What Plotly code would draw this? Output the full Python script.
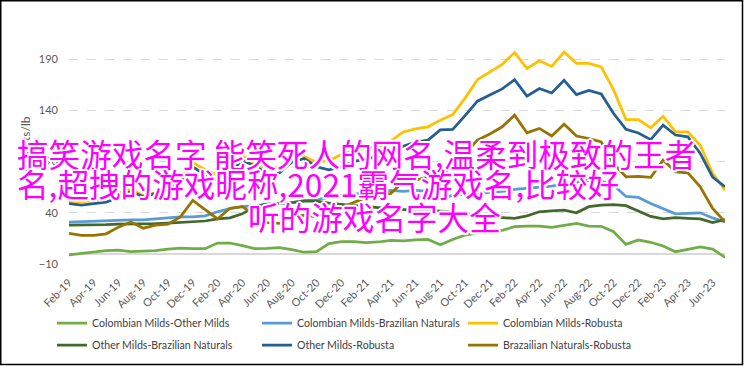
import pandas as pd
import plotly.graph_objects as go

# ---------------- data ----------------
months = list(pd.date_range("2019-02-01", periods=54, freq="MS").strftime("%b-%y"))
tick_labels = months[::2]

series_names = [
    "Colombian Milds-Other Milds",
    "Colombian Milds-Brazilian Naturals",
    "Colombian Milds-Robusta",
    "Other Milds-Brazilian Naturals",
    "Other Milds-Robusta",
    "Brazailian Naturals-Robusta",
]

colombian_other = [-1, 0.5, 2, 3, 3.5, 2, 2.5, 3, 4.5, 5.5,
                   5, 5, 10.5, 10.5, 8, 5, 5.3, 6, 4, 1.5,
                   2, 10, 11.8, 11.8, 11, 11.5, 13, 12.5, 13.5, 14,
                   8.8, 14, 18.3, 20.5, 22.2, 22.9, 26.4, 27.1, 27.1, 25.8,
                   27.8, 29.7, 27.1, 26.8, 21.5, 9.2, 13.4, 11.2, 7.6, 2,
                   4.3, 6.6, 4.6, -3.5]
colombian_brazilian = [31, 31.5, 32, 32.5, 33, 33, 33, 34, 34.5, 36,
                       36, 37, 41, 44, 46, 47, 47.5, 49, 50, 52,
                       53, 55, 57, 58, 60, 61, 62, 61, 62, 61,
                       54, 57, 58, 59, 60, 61, 63, 64, 65, 66,
                       68, 70, 72, 71, 67, 56, 55, 49, 44, 39,
                       39.5, 40, 35, 31]
colombian_robusta = [51, 51, 52, 54, 59, 63, 57, 59.6, 61, 73,
                     89, 82, 77, 86, 96, 88, 83.4, 85, 96, 95,
                     89.5, 91, 97, 101, 103.5, 104.4, 110, 119, 122, 124,
                     130.5, 136, 152, 170, 177.6, 185, 196.5, 181, 188.5, 183,
                     197, 186, 186, 182.5, 160, 131, 131, 123, 134.4, 119,
                     119, 106, 78.5, 62]
other_brazilian = [28, 28, 28, 28.5, 29, 29, 29, 29.5, 30, 30.5,
                   31, 32, 34, 35, 39, 46, 48.5, 49, 50, 51.5,
                   51.5, 49.5, 48, 47, 46, 45, 44, 43, 43, 42.5,
                   42, 41, 39, 37, 36, 35, 34.6, 37, 41, 42,
                   42.7, 40, 46, 47.6, 48, 47, 42, 36.5, 34, 35.2,
                   34.5, 34, 30.5, 33.5]
other_robusta = [49, 47.6, 49, 50.5, 55, 61, 55.7, 59, 59.5, 71,
                 85, 77, 72, 80, 91, 86, 78.5, 79, 89.5, 93,
                 85, 82, 85, 90, 93, 94.7, 100, 105, 109, 111,
                 121, 121.4, 135, 149, 155, 161, 170, 154, 161.4, 157,
                 169.5, 155.5, 159.5, 156, 137, 121.5, 118, 111.5, 125.6, 116,
                 114.2, 98, 75, 65.5]
brazilian_robusta = [20, 18, 18, 19.5, 26, 31, 25, 28, 29, 36,
                     52, 43, 34, 44.5, 46, 38, 30.5, 29.7, 36, 37.8,
                     36, 40, 45, 50, 55, 57, 59, 70, 72, 75,
                     77, 85, 98, 111, 117, 124, 135.4, 118.2, 122.4, 115,
                     126.6, 115, 112.6, 109.3, 88, 75.2, 75.5, 74.6, 91.5, 80,
                     79, 65.4, 44.3, 31.3]

overlay_lines = [
    "搞笑游戏名字 能笑死人的网名,温柔到极致的王者",
    "名,超拽的游戏昵称,2021霸气游戏名,比较好",
    "听的游戏名字大全",
]

# ---------------- layout geometry ----------------
W, H = 744, 366
Y_MIN, Y_MAX = -10, 200          # axis range (ticks shown up to 190)
L, R, T, B = 69, 19, 49, 102
PW, PH = W - L - R, H - T - B


def px_x(px):
    return (px - L) / PW


def px_y(py):
    return (T + PH - py) / PH


colors = ["#70AD47", "#5B9BD5", "#FFC000", "#43682B", "#255E91", "#997300"]
values = [colombian_other, colombian_brazilian, colombian_robusta,
          other_brazilian, other_robusta, brazilian_robusta]

legend_ids = ["legend", "legend2", "legend3", "legend4", "legend5", "legend6"]
legend_cols = [52, 257, 463]
legend_rows = [323, 345]

fig = go.Figure()
for i, (name, vals, col) in enumerate(zip(series_names, values, colors)):
    fig.add_trace(go.Scatter(
        x=months, y=vals, name=name, mode="lines",
        line=dict(color=col, width=2.75),
        legend=legend_ids[i],
        hoverinfo="skip",
    ))

label_font = dict(family="Lato, sans-serif", size=11, color="#595959")
legend_font = dict(family="Lato, sans-serif", size=10.6, color="#404040")

halo = ", ".join(f"{dx}px {dy}px 0 #ffffff" for dx, dy in
                 [(2, 0), (-2, 0), (0, 2), (0, -2), (1.5, 1.5), (-1.5, 1.5), (1.5, -1.5), (-1.5, -1.5)])

annotations = [
    dict(text="US cents/lb", textangle=-90, x=px_x(25), y=px_y(147), xref="paper", yref="paper",
         xanchor="center", yanchor="middle",
         showarrow=False, font=dict(family="Lato, sans-serif", size=12, color="#595959")),
]
line_pos = [(15, 153), (15, 183), (246, 216)]
for txt, (lx, ly) in zip(overlay_lines, line_pos):
    annotations.append(dict(
        text=txt, x=px_x(lx), y=px_y(ly), xref="paper", yref="paper",
        xanchor="left", yanchor="middle", showarrow=False,
        font=dict(family="Noto Sans CJK SC", size=31.6, color="#FF00FF", shadow=halo),
    ))

legends = {}
for i, lid in enumerate(legend_ids):
    legends[lid] = dict(orientation="h", x=px_x(legend_cols[i % 3]), y=px_y(legend_rows[i // 3]),
                        xanchor="left", yanchor="middle", font=legend_font,
                        bgcolor="rgba(0,0,0,0)", itemclick=False, itemdoubleclick=False)

fig.update_layout(
    width=W, height=H,
    margin=dict(l=L, r=R, t=T, b=B, autoexpand=False),
    paper_bgcolor="white", plot_bgcolor="white",
    showlegend=True,
    xaxis=dict(type="category", range=[0, len(months) - 1], tickmode="array",
               tickvals=tick_labels, ticktext=tick_labels, tickangle=-45,
               tickfont=label_font, showgrid=False, showline=False, zeroline=False,
               ticks="", ticklabelstandoff=9, automargin=False),
    yaxis=dict(range=[Y_MIN, Y_MAX], tickmode="linear", tick0=-10, dtick=50,
               tickfont=label_font, showgrid=True, gridcolor="#D9D9D9", griddash="dash",
               gridwidth=1, zeroline=True, zerolinecolor="#D9D9D9", zerolinewidth=1.5,
               showline=False, ticks="", ticklabelstandoff=10, automargin=False),
    annotations=annotations,
    shapes=[dict(type="rect", xref="paper", yref="paper",
                 x0=px_x(0.75), x1=px_x(742.5), y0=px_y(364.5), y1=px_y(0.75),
                 line=dict(color="black", width=1.5), fillcolor="rgba(0,0,0,0)", layer="above")],
    **legends,
)

fig.write_html("out.html", config={"displayModeBar": False},
               post_script="document.body.style.margin='0';document.body.style.overflow='hidden';")
